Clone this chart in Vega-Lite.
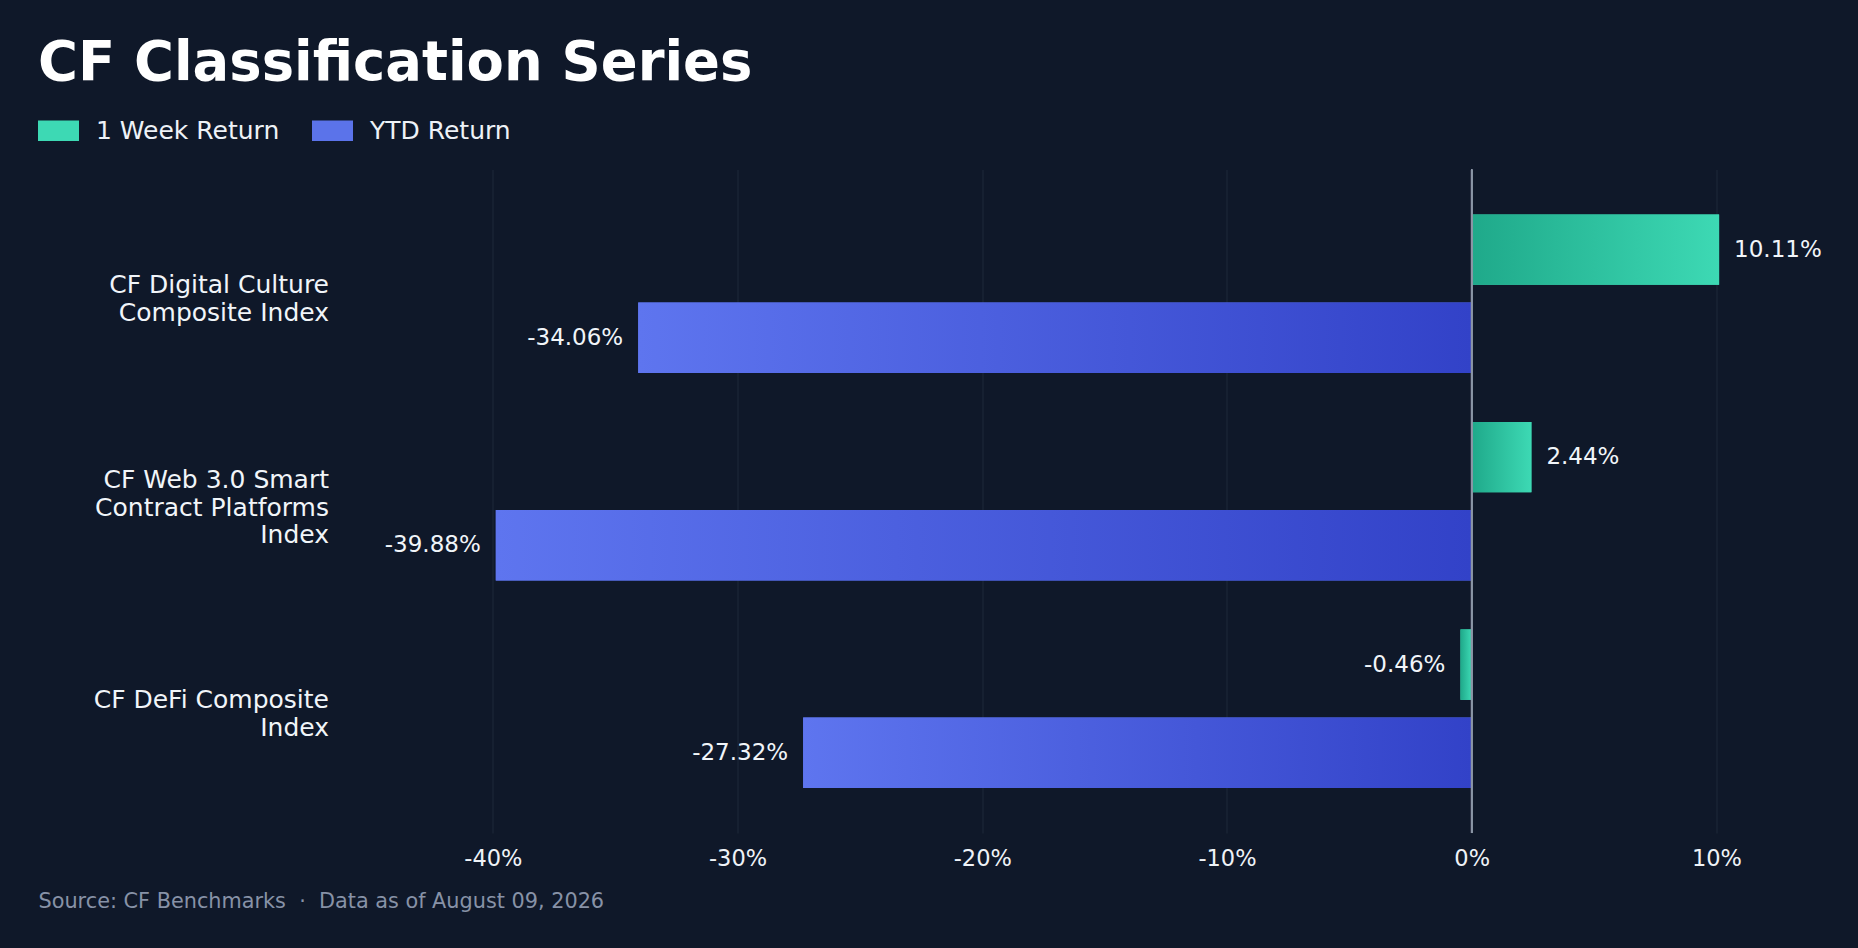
{
  "$schema": "https://vega.github.io/schema/vega-lite/v6.json",
  "width": 1443.8,
  "height": 663.6,
  "autosize": {"type": "none"},
  "padding": {"left": 370.5, "top": 169.4, "right": 43.7, "bottom": 115},
  "background": "#0f1829",
  "title": {
    "text": "CF Classification Series",
    "anchor": "start",
    "frame": "group",
    "dx": -332.5,
    "offset": 19,
    "fontSize": 54.4,
    "fontWeight": "bold",
    "color": "#ffffff",
    "font": "DejaVu Sans"
  },
  "data": {
    "values": [
      {"index": "CF Digital Culture Composite Index", "series": "1 Week Return", "value": 0.1011},
      {"index": "CF Digital Culture Composite Index", "series": "YTD Return", "value": -0.3406},
      {"index": "CF Web 3.0 Smart Contract Platforms Index", "series": "1 Week Return", "value": 0.0244},
      {"index": "CF Web 3.0 Smart Contract Platforms Index", "series": "YTD Return", "value": -0.3988},
      {"index": "CF DeFi Composite Index", "series": "1 Week Return", "value": -0.0046},
      {"index": "CF DeFi Composite Index", "series": "YTD Return", "value": -0.2732}
    ]
  },
  "layer": [
    {
      "mark": {"type": "bar"},
      "encoding": {
        "x": {
          "field": "value",
          "type": "quantitative",
          "scale": {"domain": [-0.45, 0.14], "nice": false, "zero": false},
          "axis": {
            "values": [-0.4, -0.3, -0.2, -0.1, 0, 0.1],
            "format": ".0%",
            "grid": true,
            "gridColor": "#1e293b",
            "gridWidth": 1,
            "domain": false,
            "ticks": false,
            "labelColor": "#eef2f7",
            "labelFontSize": 22.5,
            "labelFont": "DejaVu Sans",
            "labelPadding": 14,
            "title": "Source: CF Benchmarks\u00a0\u00a0·\u00a0\u00a0Data as of August 09, 2026",
            "titleX": -332.5,
            "titleY": 74,
            "titleAlign": "left",
            "titleAnchor": "start",
            "titleBaseline": "alphabetic",
            "titleFont": "DejaVu Sans",
            "titleFontSize": 20.8,
            "titleFontWeight": "normal",
            "titleColor": "#8792a7"
          }
        },
        "y": {
          "field": "index",
          "type": "nominal",
          "sort": null,
          "scale": {"paddingInner": 0.2356, "paddingOuter": 0.2168},
          "axis": {
            "title": null,
            "domain": false,
            "ticks": false,
            "grid": false,
            "labelFont": "DejaVu Sans",
            "labelFontSize": 25,
            "labelColor": "#f1f5f9",
            "labelPadding": 42,
            "labelLineHeight": 27.6,
            "labelAlign": "right",
            "labelBaseline": "middle",
            "labelLimit": 0,
            "labelOffset": {"condition": {"test": "datum.value == 'CF Web 3.0 Smart Contract Platforms Index'", "value": -21}, "value": -8.5},
            "labelExpr": "datum.value == 'CF Digital Culture Composite Index' ? ['CF Digital Culture', 'Composite Index'] : datum.value == 'CF Web 3.0 Smart Contract Platforms Index' ? ['CF Web 3.0 Smart', 'Contract Platforms', 'Index'] : ['CF DeFi Composite', 'Index']"
          }
        },
        "yOffset": {
          "field": "series",
          "type": "nominal",
          "scale": {"domain": ["1 Week Return", "YTD Return"], "paddingInner": 0.2013, "paddingOuter": 0}
        },
        "color": {
          "field": "series",
          "type": "nominal",
          "scale": {"domain": ["1 Week Return", "YTD Return"], "range": ["#3dd9b4", "#5b73ea"]},
          "legend": {
            "orient": "none",
            "legendX": -332.5,
            "legendY": -59.4,
            "direction": "horizontal",
            "title": null,
            "symbolType": "M-1,-0.5H1V0.5H-1Z",
            "symbolSize": 1681,
            "symbolStrokeWidth": 0,
            "symbolOpacity": 1,
            "labelFont": "DejaVu Sans",
            "labelFontSize": 25,
            "labelColor": "#eef2f7",
            "labelLimit": 0,
            "labelOffset": 17,
            "columnPadding": 32,
            "padding": 0
          }
        }
      }
    },
    {
      "transform": [{"filter": "datum.series == '1 Week Return'"}],
      "mark": {
        "type": "bar",
        "color": {
          "gradient": "linear",
          "x1": 0, "y1": 0, "x2": 1, "y2": 0,
          "stops": [
            {"offset": 0, "color": "#1fa98a"},
            {"offset": 1, "color": "#3dd9b4"}
          ]
        }
      },
      "encoding": {
        "x": {"field": "value", "type": "quantitative"},
        "y": {"field": "index", "type": "nominal", "sort": null},
        "yOffset": {"field": "series", "type": "nominal"}
      }
    },
    {
      "transform": [{"filter": "datum.series == 'YTD Return'"}],
      "mark": {
        "type": "bar",
        "color": {
          "gradient": "linear",
          "x1": 0, "y1": 0, "x2": 1, "y2": 0,
          "stops": [
            {"offset": 0, "color": "#5e75ef"},
            {"offset": 1, "color": "#3242c8"}
          ]
        }
      },
      "encoding": {
        "x": {"field": "value", "type": "quantitative"},
        "y": {"field": "index", "type": "nominal", "sort": null},
        "yOffset": {"field": "series", "type": "nominal"}
      }
    },
    {
      "mark": {"type": "rule", "color": "#8b95a6", "strokeWidth": 1.5},
      "encoding": {"x": {"datum": 0, "type": "quantitative"}}
    },
    {
      "transform": [{"filter": "datum.value >= 0"}],
      "mark": {"type": "text", "align": "left", "baseline": "middle", "dx": 15, "font": "DejaVu Sans", "fontSize": 23, "color": "#f1f5f9"},
      "encoding": {
        "x": {"field": "value", "type": "quantitative"},
        "y": {"field": "index", "type": "nominal", "sort": null},
        "yOffset": {"field": "series", "type": "nominal"},
        "text": {"field": "value", "type": "quantitative", "format": ".2%"}
      }
    },
    {
      "transform": [{"filter": "datum.value < 0"}],
      "mark": {"type": "text", "align": "right", "baseline": "middle", "dx": -15, "font": "DejaVu Sans", "fontSize": 23, "color": "#f1f5f9"},
      "encoding": {
        "x": {"field": "value", "type": "quantitative"},
        "y": {"field": "index", "type": "nominal", "sort": null},
        "yOffset": {"field": "series", "type": "nominal"},
        "text": {"field": "value", "type": "quantitative", "format": ".2%"}
      }
    }
  ],
  "config": {
    "view": {"stroke": null},
    "font": "DejaVu Sans",
    "locale": {
      "number": {"decimal": ".", "thousands": ",", "grouping": [3], "currency": ["$", ""], "minus": "-"}
    }
  }
}
